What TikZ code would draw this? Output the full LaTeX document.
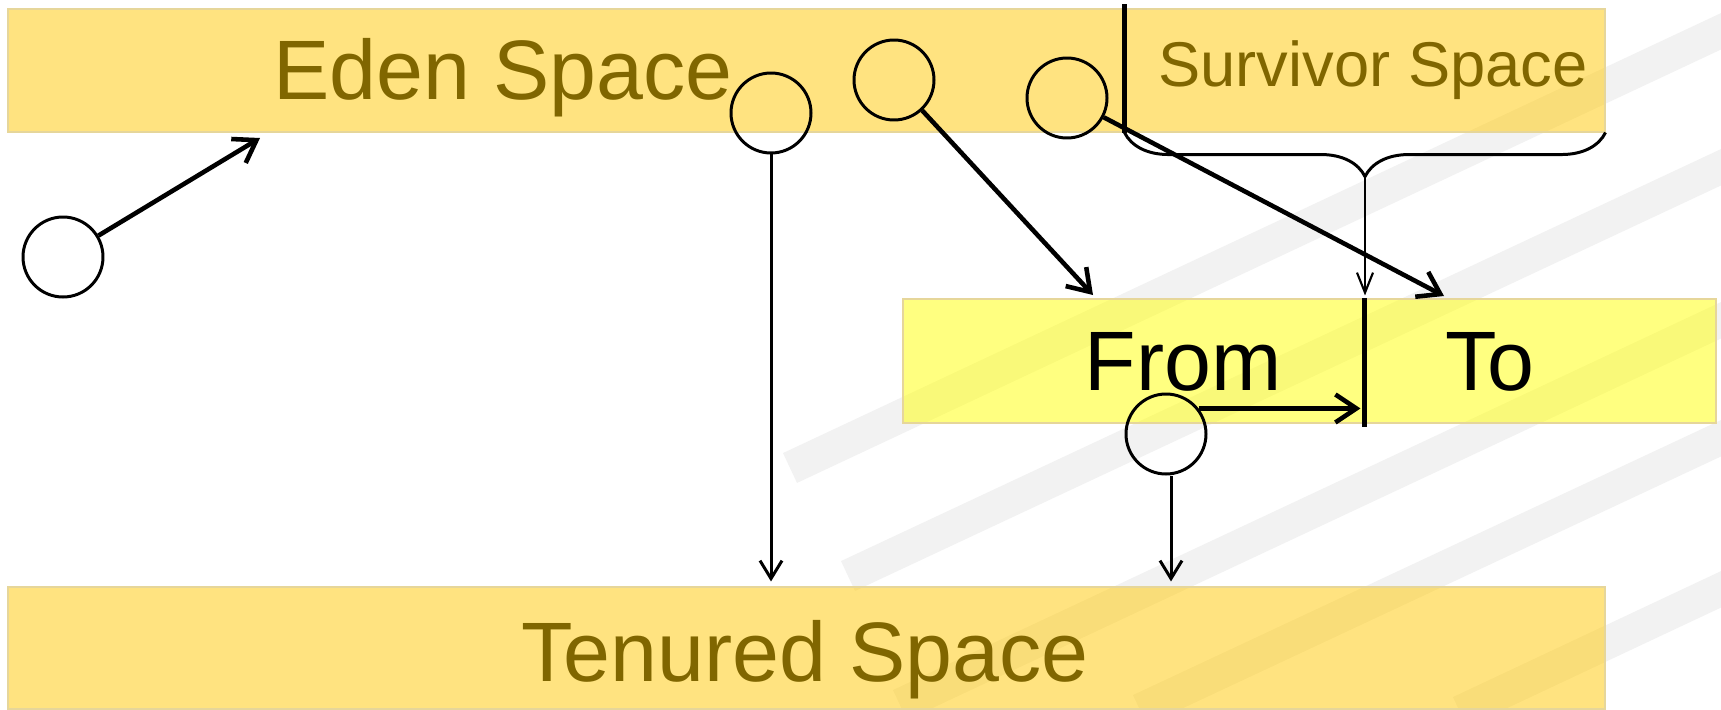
\documentclass[tikz,border=0pt]{standalone}
\usepackage{fontspec}
\setmainfont{Liberation Sans}
\usetikzlibrary{arrows.meta,decorations.pathreplacing,fit}

\definecolor{regionfill}{RGB}{255,199,1}
\definecolor{halffill}{RGB}{255,255,1}
\definecolor{regionedge}{HTML}{E6D69A}
\definecolor{labelcolor}{HTML}{806600}

\tikzset{
    heap diagram/.style   = {x=0.1mm, y=-0.1mm},
    region/.style         = {draw=regionedge, line width=0.3pt, fill=regionfill,
                             fill opacity=0.5, inner sep=0pt},
    half/.style           = {region, fill=halffill},
    region label/.style   = {anchor=base, text=labelcolor,
                             font=\fontsize{24}{28}\selectfont},
    small label/.style    = {region label, font=\fontsize{18}{22}\selectfont},
    half label/.style     = {anchor=base, font=\fontsize{24}{28}\selectfont},
    object/.style         = {draw, circle, line width=0.85pt, minimum size=8mm,
                             inner sep=0pt},
    move/.style           = {-{Straight Barb[length=2.1mm, width=2.8mm]},
                             line width=1.3pt},
    promote/.style        = {-{Straight Barb[length=1.8mm, width=2.2mm]},
                             line width=0.85pt, shorten >=0.5mm},
    feed/.style           = {-{Straight Barb[length=2mm, width=1.6mm]},
                             line width=0.6pt, shorten >=0.3mm},
    divider/.style        = {line width=1.3pt},
    stripe/.style         = {line width=3.3mm, black, opacity=0.05}
}

\begin{document}
\begin{tikzpicture}[heap diagram]
\useasboundingbox (0,0) rectangle (1721,709);

% Faint diagonal bands, seen through the regions
\begin{scope}
    \clip (0,0) rectangle (1721,709);
    \foreach \x/\y/\u/\v in {790/468/1760/13, 848/576/1760/149,
                             900/705/1760/302, 1140/710/1760/420,
                             1460/712/1760/571}
        \draw[stripe] (\x,\y) -- (\u,\v);
\end{scope}

% Generations
\node[region, fit={(8,9) (1125,132)}] (eden) {};
\node[region, fit={(1125,9) (1605,132)}] (survivor) {};
\node[region, fit={(8,587) (1605,709)}] (tenured) {};
\node[half, fit={(903,299) (1365,423)}] (fromhalf) {};
\node[half, fit={(1365,299) (1716,423)}] (tohalf) {};

\node[region label] (edenlbl) at (503,99) {Eden Space};
\node[small label] (survlbl) at (1373,86) {Survivor Space};
\node[region label] (tenlbl) at (805,681) {Tenured Space};
\node[half label] (fromlbl) at (1183,390) {From};
\node[half label] (tolbl) at (1490,390) {To};

% Partitions
\draw[divider] ([yshift=0.4mm]survivor.north west) -- (survivor.south west);
\draw[divider] (tohalf.north west) -- ([yshift=-0.3mm]tohalf.south west);

% Objects
\node[object] (newobj) at (63,257) {};
\node[object] (oldobj) at (771,113) {};
\node[object] (liveobj) at (894,80) {};
\node[object] (agedobj) at (1067,98) {};
\node[object] (survobj) at (1166,434) {};

\coordinate (edenin) at (260,138);
\coordinate (fromin) at (1093,295);
\coordinate (toin) at (1444,296);

\draw[move] (newobj) -- (edenin);
\draw[move] (liveobj) -- (fromin);
\draw[move] (agedobj) -- (toin);
\draw[move, shorten >=0.4mm] (survobj.38) -- (survobj.38 -| tohalf.west);
\draw[promote] (oldobj.south) -- (oldobj.south |- tenured.north);
\draw[promote] ([xshift=0.5mm]survobj.south) -- ([xshift=0.5mm]survobj.south |- tenured.north);

% Survivor space splits into the two halves
\draw[line width=0.85pt, decorate, decoration={brace, mirror, amplitude=4.4mm}]
    (survivor.south west) -- (survivor.south east);
\coordinate (bracetip) at ([yshift=-4.4mm]survivor.south);
\draw[feed] (bracetip) -- (bracetip |- tohalf.north);

\end{tikzpicture}
\end{document}
